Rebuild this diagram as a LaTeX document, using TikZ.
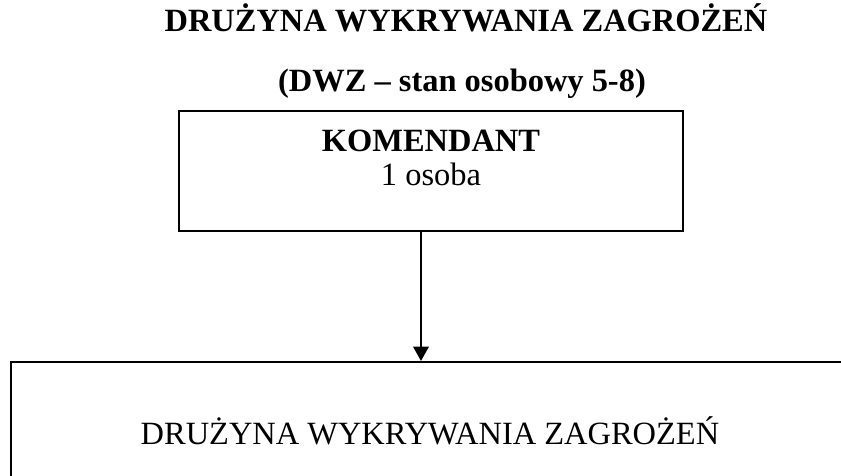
\documentclass[tikz,border=0pt]{standalone}
\usepackage{fontspec}
\setmainfont{Liberation Serif}
\usetikzlibrary{arrows.meta}
\tikzset{
  every node/.style={font=\fontsize{14.6}{17.5}\selectfont, inner sep=0pt},
  box/.style={draw, line width=0.9pt},
  arr/.style={line width=0.9pt, -{Triangle[width=7pt,length=6.5pt]}}
}
\begin{document}
\begin{tikzpicture}[x=1pt,y=1pt]
      \useasboundingbox (0,0) rectangle (378.45,-214.2);
      \clip (0,0) rectangle (378.45,-214.2);
      \draw
        (209.7,-14.4) node[anchor=base] (title){\textbf{DRUŻYNA WYKRYWANIA ZAGROŻEŃ}}
        (207.9,-40.95) node[anchor=base] (subtitle){\textbf{(DWZ – stan osobowy 5-8)}};
      \node[box, minimum width=226.8pt, minimum height=54pt] (kom) at (193.95,-76.95) {};
      \node[anchor=base] (komname) at (193.95,-67.95) {\textbf{KOMENDANT}};
      \node[anchor=base] (komcount) at (193.95,-83.7) {1 osoba};
      \node[box, minimum width=377.1pt, minimum height=62.1pt] (dwz) at (193.5,-193.95) {DRUŻYNA WYKRYWANIA ZAGROŻEŃ};
      \begin{scope}[arr]
        \draw ([xshift=-4.5pt]kom.south) to ([xshift=-4.5pt]kom.south |- dwz.north);
      \end{scope}
    \end{tikzpicture}
\end{document}
